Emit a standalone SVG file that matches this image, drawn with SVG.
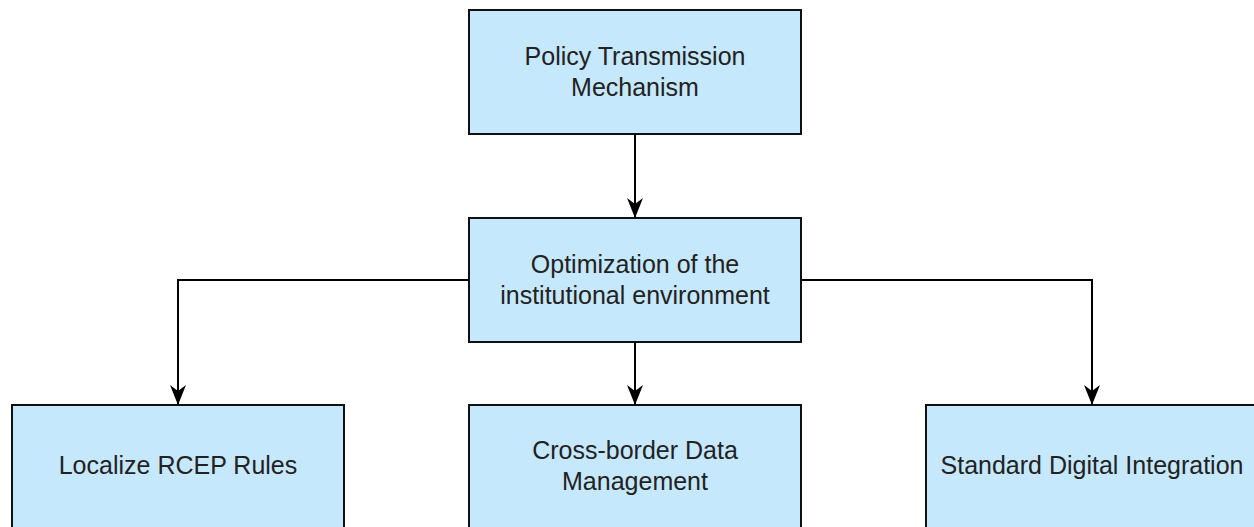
<svg xmlns="http://www.w3.org/2000/svg" width="1254" height="527" viewBox="0 0 1254 527">
<defs>
<style>
.box{fill:#c6e8fc;stroke:#111;stroke-width:2}
.lbl{font-family:"Liberation Sans",Arial,sans-serif;font-size:25px;fill:#222;text-anchor:middle}
.edge{fill:none;stroke:#000;stroke-width:2}
</style>
<marker id="arr" markerUnits="userSpaceOnUse" markerWidth="24" markerHeight="20" viewBox="-21 -10 24 20" refX="0" refY="0" orient="auto">
<path d="M1,0 L-19,-8 L-13,0 L-19,8 Z" fill="#000"/>
</marker>
</defs>
<rect width="1254" height="527" fill="#fff"/>
<g id="connectors">
<path class="edge" d="M635,134 V217" marker-end="url(#arr)"/>
<path class="edge" d="M635,342 V404" marker-end="url(#arr)"/>
<path class="edge" d="M469,280 H178 V404" marker-end="url(#arr)"/>
<path class="edge" d="M801,280 H1092 V404" marker-end="url(#arr)"/>
</g>
<g id="policy">
<rect class="box" x="469" y="10" width="332" height="124"/>
<text class="lbl" x="635" y="65">Policy Transmission</text>
<text class="lbl" x="635" y="96">Mechanism</text>
</g>
<g id="optimization">
<rect class="box" x="469" y="218" width="332" height="124"/>
<text class="lbl" x="635" y="273">Optimization of the</text>
<text class="lbl" x="635" y="304">institutional environment</text>
</g>
<g id="localize">
<rect class="box" x="12" y="405" width="332" height="124"/>
<text class="lbl" x="178" y="474">Localize RCEP Rules</text>
</g>
<g id="crossborder">
<rect class="box" x="469" y="405" width="332" height="124"/>
<text class="lbl" x="635" y="459">Cross-border Data</text>
<text class="lbl" x="635" y="490">Management</text>
</g>
<g id="standard">
<rect class="box" x="926" y="405" width="332" height="124"/>
<text class="lbl" x="1092" y="474">Standard Digital Integration</text>
</g>
</svg>
